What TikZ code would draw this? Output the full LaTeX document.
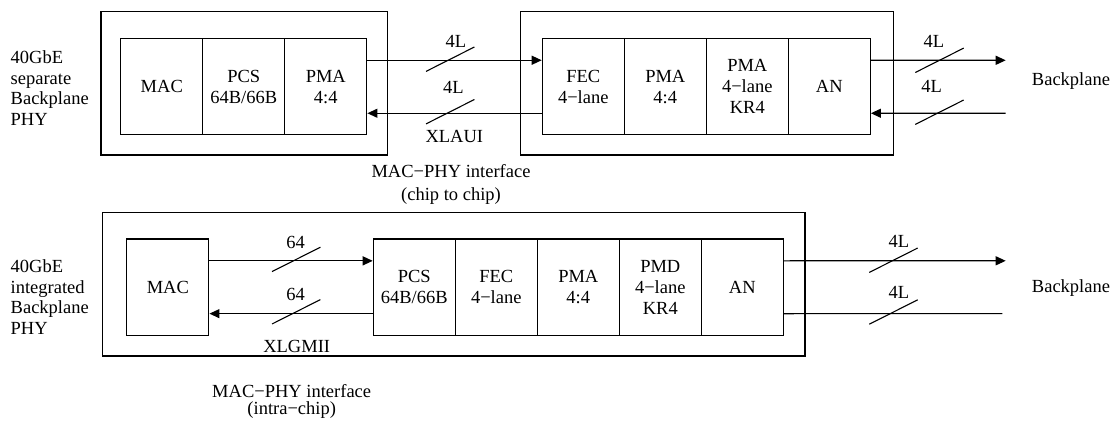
\documentclass[tikz,border=0pt]{standalone}
\usepackage{fontspec}
\setmainfont{Liberation Serif}
\usetikzlibrary{arrows.meta}
\begin{document}
\begin{tikzpicture}[x=1pt,y=-1pt,
  every node/.style={font=\fontsize{18.5}{20.8}\selectfont, inner sep=0pt},
  frame/.style={draw, line width=1.2pt},
  cell/.style={draw, line width=1.2pt, minimum width=82pt, minimum height=96.3pt, align=center},
  link/.style={line width=1.2pt},
  arr/.style={link, -{Triangle[length=10pt,width=9pt]}},
  lane/.style={line width=1.1pt},
  lbl/.style={align=center}
]
\useasboundingbox (0,0) rectangle (1115,422);

% ---------- outer frames ----------
\node[frame, minimum width=286.3pt, minimum height=143.3pt] (chipA) at (244.15,83.35) {};
\node[frame, minimum width=372.6pt, minimum height=143.3pt] (chipB) at (707,83.35) {};
\node[frame, minimum width=702.7pt, minimum height=143.3pt] (chipC) at (453.65,284.35) {};

% ---------- top row cells ----------
\node[cell] (macA) at (161.8,86.65) {MAC};
\node[cell] (pcsA) at (243.8,86.65) {PCS\\64B/66B};
\node[cell] (pmaA) at (325.8,86.65) {PMA\\4:4};

\node[cell] (fecB) at (583.3,86.65) {FEC\\4−lane};
\node[cell] (pmaB) at (665.3,86.65) {PMA\\4:4};
\node[cell] (pmdB) at (747.3,86.65) {PMA\\4−lane\\KR4};
\node[cell] (anB)  at (829.3,86.65) {AN};

% ---------- bottom row cells ----------
\node[cell] (macC) at (167.85,287.15) {MAC};
\node[cell] (pcsC) at (414.3,287.15) {PCS\\64B/66B};
\node[cell] (fecC) at (496.3,287.15) {FEC\\4−lane};
\node[cell] (pmaC) at (578.3,287.15) {PMA\\4:4};
\node[cell] (pmdC) at (660.3,287.15) {PMD\\4−lane\\KR4};
\node[cell] (anC)  at (742.3,287.15) {AN};

% ---------- free ends ----------
\coordinate (bpoA) at (1005.7,60.3);
\coordinate (bpiA) at (1005.7,113.3);
\coordinate (bpoC) at (1005.7,260.8);
\coordinate (bpiC) at (1002.3,313.6);

% ---------- connectors ----------
\draw[arr] ([yshift=26.4pt]pmaA.east) -- ([yshift=26.4pt]fecB.west);
\draw[arr] ([yshift=-26.6pt]fecB.west) -- ([yshift=-26.6pt]pmaA.east);
\draw[arr] ([yshift=26.4pt]anB.east) -- (bpoA);
\draw[arr] (bpiA) -- ([yshift=-26.6pt]anB.east);

\draw[arr] ([yshift=26.3pt]macC.east) -- ([yshift=26.3pt]pcsC.west);
\draw[arr] ([yshift=-26.5pt]pcsC.west) -- ([yshift=-26.5pt]macC.east);
\draw[arr] ([yshift=26.3pt]anC.east) -- (bpoC);
\draw[link] (bpiC) -- ([yshift=-26.5pt]anC.east);

% ---------- lane slashes ----------
\coordinate (s1) at (450.2,59.2);
\coordinate (s2) at (450.2,111.7);
\coordinate (s3) at (939.5,60.3);
\coordinate (s4) at (939.5,112.2);
\coordinate (s5) at (296.2,259.4);
\coordinate (s6) at (296.2,311.8);
\coordinate (s7) at (893.5,260.2);
\coordinate (s8) at (893.5,312.0);
\foreach \s in {s1,s2,s3,s4,s5,s6,s7,s8}
  \draw[lane] ([shift={(-24.2,12.2)}]\s) -- ([shift={(24.2,-12.2)}]\s);

% ---------- labels ----------
\node[lbl] (l1) at (456,41.7) {4L};
\node[lbl] (l2) at (453.3,87.3) {4L};
\node[lbl] (xlaui) at (454.3,136.7) {XLAUI};
\node[lbl] (ifA1) at (451,170.7) {MAC−PHY interface};
\node[lbl] (ifA2) at (451,196.5) {(chip to chip)};
\node[lbl] (l3) at (934,41.7) {4L};
\node[lbl] (l4) at (931.7,86.7) {4L};
\node[lbl] (bpA) at (1071,81) {Backplane};

\node[lbl] (l5) at (295.7,242.7) {64};
\node[lbl] (l6) at (295.7,294.3) {64};
\node[lbl] (xlgmii) at (296.7,346) {XLGMII};
\node[lbl] (ifC1) at (291.7,391) {MAC−PHY interface};
\node[lbl] (ifC2) at (291.7,410) {(intra−chip)};
\node[lbl] (l7) at (899,241.7) {4L};
\node[lbl] (l8) at (899,292.7) {4L};
\node[lbl] (bpC) at (1071,287.7) {Backplane};

\node[anchor=west, align=left] (tA) at (10.5,88) {40GbE\\separate\\Backplane\\PHY};
\node[anchor=west, align=left] (tC) at (10.5,297) {40GbE\\integrated\\Backplane\\PHY};
\end{tikzpicture}
\end{document}
